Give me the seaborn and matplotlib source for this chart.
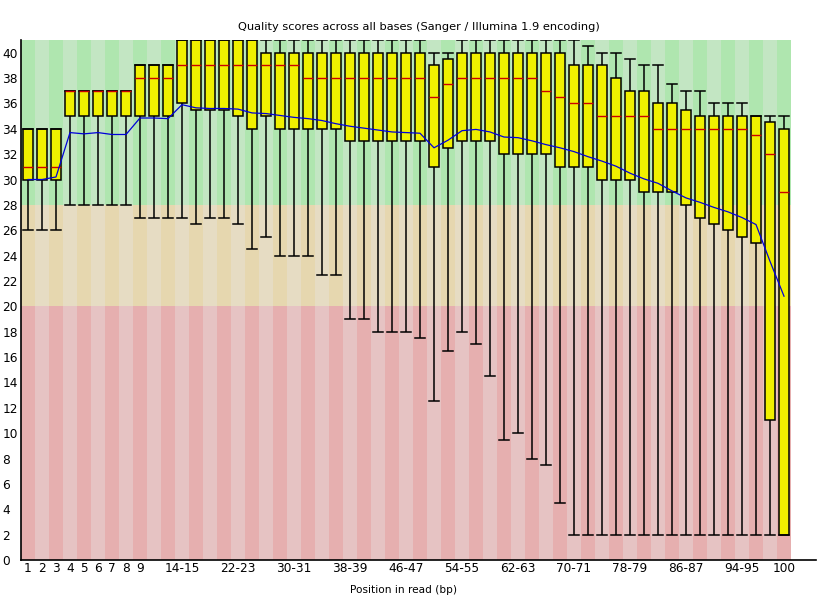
import numpy as np
import pandas as pd
import seaborn as sns
import matplotlib
matplotlib.use("Agg")
import matplotlib.pyplot as plt

# ---------------- data ----------------
positions = [str(p) for p in range(1, 10)] + [f"{a}-{a+1}" for a in range(10, 100, 2)] + ["100"]

lower_whisker = [26, 26, 26, 28, 28, 28, 28, 28, 27, 27,
                 27, 27, 26.5, 27, 27, 26.5, 24.5, 25.5, 24, 24,
                 24, 22.5, 22.5, 19, 19, 18, 18, 18, 17.5, 12.5,
                 16.5, 18, 17, 14.5, 9.5, 10, 8, 7.5, 4.5, 2,
                 2, 2, 2, 2, 2, 2, 2, 2, 2, 2,
                 2, 2, 2, 2, 2]
q1 = [30, 30, 30, 35, 35, 35, 35, 35, 35, 35,
      35, 36, 35.5, 35.5, 35.5, 35, 34, 35, 34, 34,
      34, 34, 34, 33, 33, 33, 33, 33, 33, 31,
      32.5, 33, 33, 33, 32, 32, 32, 32, 31, 31,
      31, 30, 30, 30, 29, 29, 29, 28, 27, 26.5,
      26, 25.5, 25, 11, 2]
median = [31, 31, 31, 37, 37, 37, 37, 37, 38, 38,
          38, 39, 39, 39, 39, 39, 39, 39, 39, 39,
          38, 38, 38, 38, 38, 38, 38, 38, 38, 36.5,
          37.5, 38, 38, 38, 38, 38, 38, 37, 36.5, 36,
          36, 35, 35, 35, 35, 34, 34, 34, 34, 34,
          34, 34, 33.5, 32, 29]
q3 = [34, 34, 34, 37, 37, 37, 37, 37, 39, 39,
      39, 41, 41, 41, 41, 41, 41, 40, 40, 40,
      40, 40, 40, 40, 40, 40, 40, 40, 40, 39,
      39.5, 40, 40, 40, 40, 40, 40, 40, 40, 39,
      39, 39, 38, 37, 37, 36, 36, 35.5, 35, 35,
      35, 35, 35, 34.5, 34]
upper_whisker = [34, 34, 34, 37, 37, 37, 37, 37, 39, 39,
                 39, 41, 41, 41, 41, 41, 41, 41, 41, 41,
                 41, 41, 41, 41, 41, 41, 41, 41, 41, 40,
                 40, 41, 41, 41, 41, 41, 41, 41, 41, 41,
                 40.5, 40, 40, 39.5, 39, 39, 37.5, 37, 37, 36,
                 36, 36, 35, 35, 35]
mean_quality = [30.0, 30.0, 30.2, 33.7, 33.6, 33.7, 33.55, 33.55, 34.85, 34.85,
                34.8, 35.9, 35.65, 35.6, 35.6, 35.55, 35.25, 35.2, 35.05, 34.9,
                34.8, 34.65, 34.4, 34.2, 34.05, 33.9, 33.75, 33.7, 33.65, 32.5,
                33.1, 33.85, 33.95, 33.75, 33.35, 33.3, 33.05, 32.75, 32.5, 32.2,
                31.8, 31.45, 31.05, 30.5, 30.05, 29.7, 29.1, 28.55, 28.2, 27.8,
                27.45, 27.0, 26.45, 23.55, 20.8]

shown_ticks = ["1", "2", "3", "4", "5", "6", "7", "8", "9", "14-15", "22-23",
               "30-31", "38-39", "46-47", "54-55", "62-63", "70-71", "78-79",
               "86-87", "94-95", "100"]
y_ticks = list(range(0, 41, 2))

title = "Quality scores across all bases (Sanger / Illumina 1.9 encoding)"
xlabel = "Position in read (bp)"

# ---------------- long table: 5 values per position give exact box stats ----------------
rows = []
for p, a, b, c, d, e in zip(positions, lower_whisker, q1, median, q3, upper_whisker):
    for v in (a, b, c, d, e):
        rows.append({"pos": p, "q": v})
df = pd.DataFrame(rows)

plt.rcParams["font.family"] = ["DejaVu Sans"]

W, H = 825, 600
fig = plt.figure(figsize=(W / 100, H / 100), dpi=100)
ax_left, ax_right, ax_top, ax_bottom = 21, 816, 40, 560
ax = fig.add_axes([ax_left / W, 1 - ax_bottom / H, (ax_right - ax_left) / W, (ax_bottom - ax_top) / H])

n = len(positions)
idx = np.arange(n)
ymax = 41.0

# background bands (alternating shades)
good = [(175/255, 230/255, 175/255), (195/255, 230/255, 195/255)]
okc = [(230/255, 215/255, 175/255), (230/255, 220/255, 195/255)]
bad = [(230/255, 175/255, 175/255), (230/255, 195/255, 195/255)]
ax.bar(idx, 20, bottom=0, width=1.0, color=[bad[i % 2] for i in idx], linewidth=0, zorder=0)
ax.bar(idx, 8, bottom=20, width=1.0, color=[okc[i % 2] for i in idx], linewidth=0, zorder=0)
ax.bar(idx, ymax + 1 - 28, bottom=28, width=1.0, color=[good[i % 2] for i in idx], linewidth=0, zorder=0)

sns.boxplot(data=df, x="pos", y="q", order=positions, whis=(0, 100), width=0.72,
            color=(240/255, 240/255, 0), saturation=1, linecolor="black", linewidth=1.1,
            showfliers=False, medianprops=dict(color=(0.8, 0, 0), linewidth=1.0),
            capwidths=0.72, ax=ax, zorder=3)

sns.lineplot(x=idx, y=mean_quality, color=(0, 0, 0.85), linewidth=0.9, ax=ax, zorder=6)

ax.set_xlim(-0.5, -0.5 + (ax_right - ax_left) / 14.0)
ax.set_ylim(0, ymax)
for s in ["top", "right"]:
    ax.spines[s].set_visible(False)
for s in ["left", "bottom"]:
    ax.spines[s].set_color("black")
    ax.spines[s].set_linewidth(1.2)
    ax.spines[s].set_zorder(10)

ax.set_yticks(y_ticks)
ax.set_yticklabels([str(t) for t in y_ticks], fontsize=8.7, ha="left")
ax.tick_params(axis="y", length=0, pad=13.5)
tick_pos = [positions.index(t) for t in shown_ticks]
ax.set_xticks(tick_pos)
ax.set_xticklabels(shown_ticks, fontsize=8.7)
ax.tick_params(axis="x", length=0, pad=1.5)
ax.set_xlabel("")
ax.set_ylabel("")
ax.grid(False)

fig.text(419 / W, 1 - 26.5 / H, title, ha="center", va="center", fontsize=8.2)
fig.text(404 / W, 1 - 590 / H, xlabel, ha="center", va="center", fontsize=7.6)

fig.savefig("out.png", dpi=100, facecolor="white")
